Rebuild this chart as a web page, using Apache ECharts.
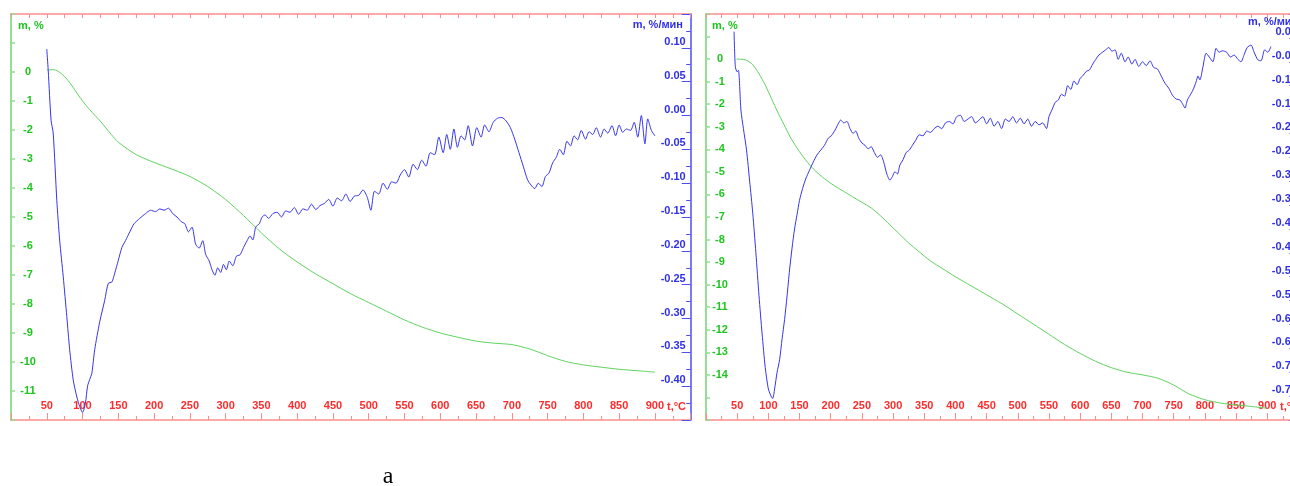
<!DOCTYPE html>
<html>
<head>
<meta charset="utf-8">
<script src="https://cdn.jsdelivr.net/npm/echarts@6/dist/echarts.min.js"></script>
<style>
html,body{margin:0;padding:0;background:#fff;}
#chart{width:1290px;height:486px;}
</style>
</head>
<body>
<div id="chart"></div>
<script>
// ---- Sample A (left panel): TG mass loss, %
const tgTempA = [50,60,70,80,90,100,110,125,140,150,175,200,225,250,275,300,325,350,375,400,425,450,475,500,525,550,575,600,625,650,675,700,725,750,775,800,825,850,875,900];
const tgMassA = [0.07,0.08,-0.05,-0.3,-0.65,-1.0,-1.3,-1.7,-2.15,-2.42,-2.85,-3.12,-3.35,-3.6,-3.95,-4.4,-4.95,-5.55,-6.1,-6.55,-6.95,-7.3,-7.65,-7.95,-8.25,-8.55,-8.8,-9.0,-9.15,-9.28,-9.35,-9.4,-9.55,-9.78,-9.98,-10.1,-10.18,-10.25,-10.3,-10.35];

// ---- Sample A (left panel): DTG, %/min
const dtgTempA = [50,52,56,59,64,68,73,78,82,87,92,96,100,104,107,110,113,117,124,131,136,141,145,150,155,160,166,172,180,188,195,202,208,214,220,226,232,238,243,248,253,258,263,268,272,277,281,285,289,293,297,301,305,310,315,320,325,330,334,338,342,347,351,355,360,366,372,378,384,390,396,402,408,414,420,426,432,438,444,450,456,462,468,474,480,486,492,498,503,508,514,520,526,532,538,544,550,556,562,568,574,580,586,592,598,604,609,614,619,624,629,634,639,645,651,657,662,668,674,680,686,692,698,704,710,716,722,727,732,737,742,747,752,757,762,767,772,777,782,787,792,797,803,808,813,818,824,829,834,840,845,850,855,860,866,871,876,881,886,890,895,900];
const dtgRateA = [0.098,0.067,-0.007,-0.026,-0.125,-0.184,-0.238,-0.297,-0.346,-0.391,-0.416,-0.43,-0.439,-0.425,-0.4,-0.39,-0.381,-0.346,-0.305,-0.273,-0.248,-0.246,-0.233,-0.214,-0.195,-0.185,-0.172,-0.16,-0.152,-0.145,-0.14,-0.142,-0.138,-0.14,-0.137,-0.145,-0.15,-0.157,-0.16,-0.172,-0.165,-0.19,-0.196,-0.185,-0.205,-0.215,-0.228,-0.236,-0.225,-0.232,-0.22,-0.228,-0.215,-0.222,-0.208,-0.206,-0.195,-0.185,-0.178,-0.184,-0.165,-0.16,-0.15,-0.147,-0.152,-0.145,-0.143,-0.15,-0.141,-0.143,-0.136,-0.146,-0.138,-0.14,-0.131,-0.139,-0.133,-0.13,-0.124,-0.134,-0.122,-0.126,-0.116,-0.127,-0.119,-0.118,-0.11,-0.121,-0.14,-0.112,-0.116,-0.1,-0.109,-0.098,-0.1,-0.088,-0.08,-0.091,-0.072,-0.08,-0.066,-0.075,-0.055,-0.058,-0.032,-0.055,-0.028,-0.05,-0.02,-0.047,-0.03,-0.036,-0.015,-0.045,-0.018,-0.032,-0.014,-0.024,-0.01,-0.004,-0.003,-0.008,-0.018,-0.035,-0.055,-0.075,-0.095,-0.103,-0.108,-0.1,-0.105,-0.09,-0.085,-0.07,-0.062,-0.05,-0.058,-0.038,-0.045,-0.03,-0.036,-0.022,-0.035,-0.024,-0.028,-0.018,-0.032,-0.02,-0.026,-0.015,-0.03,-0.014,-0.025,-0.02,-0.022,-0.01,-0.032,0.0,-0.042,-0.005,-0.022,-0.03];

// ---- Sample B (right panel): TG mass loss, %
const tgTempB = [49,55,65,75,85,95,105,115,125,135,145,155,165,175,190,205,220,235,250,265,280,295,310,325,340,360,380,400,425,450,475,500,525,550,575,600,625,650,675,700,725,750,775,800,825,850,875,900];
const tgMassB = [0.0,0.0,-0.05,-0.25,-0.65,-1.15,-1.75,-2.35,-2.9,-3.45,-3.9,-4.3,-4.65,-4.95,-5.3,-5.6,-5.85,-6.1,-6.35,-6.6,-6.95,-7.35,-7.75,-8.15,-8.5,-8.95,-9.3,-9.65,-10.05,-10.45,-10.85,-11.3,-11.75,-12.2,-12.65,-13.05,-13.4,-13.68,-13.88,-14.0,-14.15,-14.45,-14.85,-15.1,-15.25,-15.33,-15.4,-15.48];

// ---- Sample B (right panel): DTG, %/min
const dtgTempB = [45,47,50,52,56,60,65,70,75,80,85,90,95,100,105,107,110,114,118,122,126,130,134,138,142,146,150,155,160,166,172,178,184,190,196,201,207,212,216,221,226,231,236,240,245,250,255,260,265,270,275,280,285,290,295,299,303,307,311,316,321,326,331,336,342,348,354,360,366,372,378,384,390,396,402,408,414,420,426,432,438,444,450,456,462,468,474,480,486,492,498,504,510,516,522,528,534,540,546,550,555,560,565,570,575,580,585,590,595,600,605,610,615,620,625,630,636,641,646,651,656,661,666,672,677,683,688,694,700,706,712,718,724,730,736,742,748,754,760,765,768,772,775,781,786,789,792,797,802,807,813,818,823,828,835,841,847,853,858,863,868,874,879,885,890,896,901,906];
const dtgRateB = [0.013,-0.06,-0.071,-0.068,-0.151,-0.19,-0.235,-0.3,-0.367,-0.45,-0.54,-0.62,-0.69,-0.735,-0.752,-0.755,-0.735,-0.7,-0.674,-0.63,-0.59,-0.54,-0.486,-0.44,-0.4,-0.37,-0.34,-0.315,-0.295,-0.277,-0.26,-0.245,-0.235,-0.225,-0.21,-0.205,-0.193,-0.18,-0.172,-0.178,-0.175,-0.19,-0.2,-0.195,-0.21,-0.22,-0.225,-0.232,-0.228,-0.24,-0.25,-0.245,-0.26,-0.285,-0.298,-0.29,-0.28,-0.285,-0.266,-0.255,-0.24,-0.235,-0.225,-0.215,-0.203,-0.205,-0.195,-0.198,-0.19,-0.185,-0.19,-0.178,-0.175,-0.18,-0.165,-0.162,-0.175,-0.17,-0.165,-0.178,-0.172,-0.165,-0.18,-0.168,-0.185,-0.175,-0.19,-0.17,-0.175,-0.165,-0.178,-0.168,-0.18,-0.17,-0.185,-0.175,-0.182,-0.178,-0.19,-0.165,-0.15,-0.135,-0.13,-0.118,-0.122,-0.1,-0.108,-0.09,-0.098,-0.085,-0.078,-0.07,-0.067,-0.055,-0.045,-0.036,-0.03,-0.025,-0.02,-0.028,-0.025,-0.045,-0.032,-0.05,-0.04,-0.055,-0.045,-0.06,-0.05,-0.058,-0.048,-0.062,-0.065,-0.08,-0.095,-0.105,-0.12,-0.128,-0.13,-0.14,-0.147,-0.13,-0.123,-0.109,-0.092,-0.08,-0.088,-0.06,-0.032,-0.04,-0.05,-0.022,-0.03,-0.027,-0.03,-0.04,-0.036,-0.045,-0.05,-0.035,-0.02,-0.015,-0.03,-0.046,-0.048,-0.025,-0.03,-0.018];

// ---- Axis ranges
const tempRange = [0, 950];
const massRangeA = [-12, 2];
const rateRangeA = [-0.45, 0.15];
const massRangeB = [-16, 2];
const rateRangeB = [-0.80, 0.05];

// ---- Axis titles
const massTitle = 'm, %';
const rateTitle = 'm, %/мин';
const tempTitle = 't,°C';
const panelCaption = 'a';

const RED_TEXT = '#ff2b2b', RED_LINE = '#ff8c8c';
const GREEN_TEXT = '#20c420', GREEN_LINE = '#93df93';
const BLUE_TEXT = '#3030e8', BLUE_LINE = '#4d4dff';
const CURVE_GREEN = '#5fd35f', CURVE_BLUE = '#3535ee';
const FONT = '"Liberation Sans", Arial, sans-serif';

const zip = (xs, ys) => xs.map((x, i) => [x, ys[i]]);

function bottomTempAxis(grid) {
  return {
    type: 'value', gridIndex: grid, position: 'bottom',
    min: tempRange[0], max: tempRange[1], interval: 50,
    axisLine: { show: true, onZero: false, lineStyle: { color: RED_LINE, width: 1.5 } },
    axisTick: { show: true, inside: true, length: 7, lineStyle: { color: RED_LINE } },
    minorTick: { show: true, splitNumber: 2, length: 4, lineStyle: { color: RED_LINE } },
    axisLabel: {
      inside: true, margin: 9, color: RED_TEXT, fontSize: 11, fontWeight: 'bold', fontFamily: FONT,
      formatter: v => (v >= 50 && v <= 900) ? String(v) : ''
    },
    splitLine: { show: false }, minorSplitLine: { show: false }
  };
}
function topTempAxis(grid) {
  return {
    type: 'value', gridIndex: grid, position: 'top',
    min: tempRange[0], max: tempRange[1], interval: 25,
    axisLine: { show: true, onZero: false, lineStyle: { color: RED_LINE, width: 1.5 } },
    axisTick: { show: true, inside: true, length: 4, lineStyle: { color: RED_LINE } },
    axisLabel: { show: false },
    splitLine: { show: false }
  };
}
function massAxis(grid, range, lowLabel, margin) {
  return {
    type: 'value', gridIndex: grid, position: 'left',
    min: range[0], max: range[1], interval: 1,
    axisLine: { show: true, onZero: false, lineStyle: { color: GREEN_LINE, width: 2 } },
    axisTick: { show: true, inside: true, length: 4, lineStyle: { color: GREEN_LINE, width: 1.5 } },
    axisLabel: {
      inside: true, margin: margin, align: 'center', color: GREEN_TEXT,
      fontSize: 11, fontWeight: 'bold', fontFamily: FONT,
      formatter: v => { const r = Math.round(v); return (r <= 0 && r >= lowLabel) ? String(r) : ''; }
    },
    splitLine: { show: false }
  };
}
function rateAxis(grid, range, hi, lo, margin) {
  return {
    type: 'value', gridIndex: grid, position: 'right',
    min: range[0], max: range[1], interval: 0.05,
    axisLine: { show: true, onZero: false, lineStyle: { color: BLUE_LINE, width: 1.5 } },
    axisTick: { show: true, inside: true, length: 9, lineStyle: { color: BLUE_LINE } },
    minorTick: { show: true, splitNumber: 2, length: 4.5, lineStyle: { color: BLUE_LINE } },
    axisLabel: {
      inside: true, margin: margin, align: 'right', verticalAlign: 'bottom', lineHeight: 12,
      color: BLUE_TEXT, fontSize: 11, fontWeight: 'bold', fontFamily: FONT,
      formatter: v => {
        const r = Math.round(v * 100) / 100;
        return (r <= hi + 1e-9 && r >= lo - 1e-9) ? r.toFixed(2) : '';
      }
    },
    splitLine: { show: false }, minorSplitLine: { show: false }
  };
}
function curve(xi, yi, data, color) {
  return {
    type: 'line', xAxisIndex: xi, yAxisIndex: yi, data: data,
    showSymbol: false, smooth: 0.25, clip: true,
    lineStyle: { color: color, width: 1 }, itemStyle: { color: color }
  };
}
function label(text, x, y, color, align, font) {
  return {
    type: 'text', x: x, y: y, silent: true,
    style: {
      text: text, fill: color, font: font || ('bold 11px ' + FONT),
      textAlign: align, align: align, textVerticalAlign: 'middle', verticalAlign: 'middle'
    }
  };
}

const chart = echarts.init(document.getElementById('chart'), null, { renderer: 'canvas' });
chart.setOption({
  animation: false,
  backgroundColor: '#ffffff',
  grid: [
    { left: 11, top: 14, width: 679.7, height: 406, outerBoundsMode: 'none' },
    // the second panel runs slightly past the right edge of the page
    { left: 706, top: 14, width: 592.4, height: 406, outerBoundsMode: 'none' }
  ],
  xAxis: [bottomTempAxis(0), topTempAxis(0), bottomTempAxis(1), topTempAxis(1)],
  yAxis: [
    massAxis(0, massRangeA, -11, 17),
    rateAxis(0, rateRangeA, 0.10, -0.40, 5),
    massAxis(1, massRangeB, -14, 14),
    rateAxis(1, rateRangeB, 0.00, -0.75, 1.5)
  ],
  series: [
    curve(0, 0, zip(tgTempA, tgMassA), CURVE_GREEN),
    curve(0, 1, zip(dtgTempA, dtgRateA), CURVE_BLUE),
    curve(2, 2, zip(tgTempB, tgMassB), CURVE_GREEN),
    curve(2, 3, zip(dtgTempB, dtgRateB), CURVE_BLUE)
  ],
  graphic: [
    label(massTitle, 18, 26, GREEN_TEXT, 'left'),
    label(rateTitle, 683, 25, BLUE_TEXT, 'right'),
    label(tempTitle, 667, 407, RED_TEXT, 'left'),
    label(massTitle, 712, 26, GREEN_TEXT, 'left'),
    label(rateTitle, 1248, 22, BLUE_TEXT, 'left'),
    label(tempTitle, 1280, 407, RED_TEXT, 'left'),
    label(panelCaption, 388, 477, '#000000', 'center', '24px "Liberation Serif", "Times New Roman", serif')
  ]
});
</script>
</body>
</html>
